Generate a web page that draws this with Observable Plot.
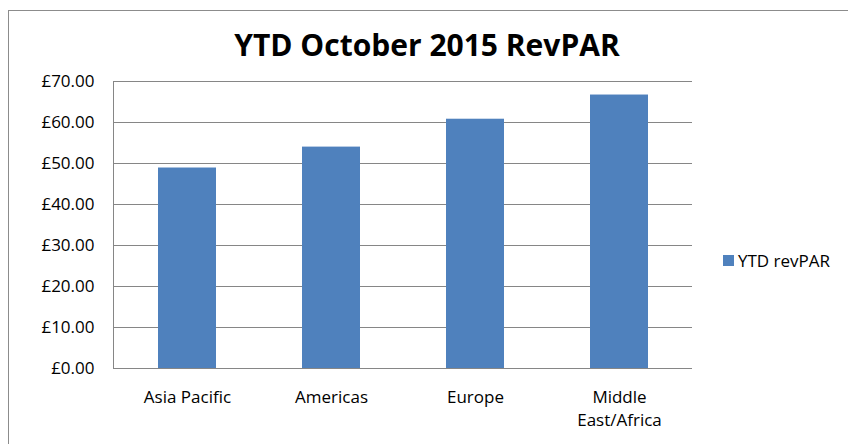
<!DOCTYPE html>
<html>
<head>
<meta charset="utf-8">
<script src="https://cdn.jsdelivr.net/npm/d3@7"></script>
<script src="https://cdn.jsdelivr.net/npm/@observablehq/plot@0.6"></script>
<style>
  html, body { margin: 0; padding: 0; background: #fff; }
  #wrap { position: relative; width: 848px; height: 444px; overflow: hidden; font-family: "Open Sans", sans-serif; }
  #border { position: absolute; left: 8px; top: 10px; width: 900px; height: 500px; border: 1px solid #8c8c8c; box-sizing: border-box; }
  #title { position: absolute; left: 0; width: 854px; top: 25px; text-align: center; font-weight: 700; font-size: 30px; color: #000; line-height: 1.3; }
  #legend { position: absolute; left: 723px; top: 249px; font-size: 17px; color: #000; display: flex; align-items: center; white-space: nowrap; }
  #legend .sw { width: 11px; height: 11px; background: #4F81BD; margin-right: 4px; }
  #chart { position: absolute; left: 0; top: 0; }
</style>
</head>
<body>
<div id="wrap">
  <div id="border"></div>
  <div id="chart"></div>
  <div id="title">YTD October 2015 RevPAR</div>
  <div id="legend"><span class="sw"></span><span>YTD revPAR</span></div>
</div>
<script>
const categories = ["Asia Pacific", "Americas", "Europe", "Middle East/Africa"];
const xLabels = ["Asia Pacific", "Americas", "Europe", "Middle\nEast/Africa"];
const values = [48.9, 54.0, 60.8, 66.7];
const yTicks = [0, 10, 20, 30, 40, 50, 60, 70];
const seriesName = "YTD revPAR";

const data = categories.map((c, i) => ({region: c, value: values[i], series: seriesName}));
const labelOf = new Map(categories.map((c, i) => [c, xLabels[i]]));

const chart = Plot.plot({
  width: 848,
  height: 444,
  marginTop: 81,
  marginBottom: 76,
  marginLeft: 113,
  marginRight: 156,
  style: {fontFamily: "Open Sans, sans-serif", fontSize: "17px", color: "#000", background: "transparent", overflow: "visible"},
  x: {domain: categories, paddingInner: 0.6, paddingOuter: 0.3, label: null},
  y: {domain: [0, 70], label: null},
  marks: [
    Plot.gridY(yTicks, {stroke: "#868686", strokeOpacity: 1, strokeWidth: 1}),
    Plot.barY(data, {x: "region", y: "value", fill: "#4F81BD"}),
    Plot.frame({anchor: "left", stroke: "#868686", strokeOpacity: 1}),
    Plot.ruleY([0], {stroke: "#868686", strokeWidth: 1}),
    Plot.axisY({ticks: yTicks, tickSize: 0, tickPadding: 19, tickFormat: d => "£" + d.toFixed(2), fontSize: 17, label: null}),
    Plot.axisX({tickSize: 0, tickPadding: 18, tickFormat: d => labelOf.get(d), fontSize: 17, lineHeight: 1.35, label: null})
  ]
});
document.getElementById("chart").appendChild(chart);
</script>
</body>
</html>
